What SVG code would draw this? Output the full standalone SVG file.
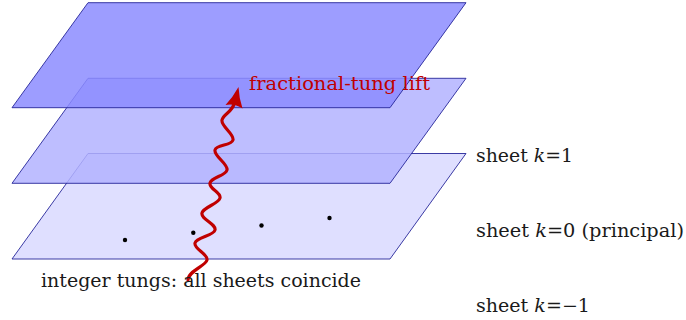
<svg xmlns="http://www.w3.org/2000/svg" width="686" height="320" viewBox="0 0 686 320">
<style>
.sheet{stroke:#26269a;stroke-width:0.9;fill-opacity:0.85;stroke-linejoin:round}
.lbl{font-family:"DejaVu Serif","Liberation Serif",serif;font-size:18px;fill:#1a1a1a}
.red{fill:#c00000}
.it{font-style:italic}
.dot{fill:#000}
.wave{fill:none;stroke:#c00000;stroke-width:3.2;stroke-linecap:round;stroke-linejoin:round}
</style>
<rect width="686" height="320" fill="#fff"/>
<g id="sheet-bottom">
<polygon class="sheet" fill="#d9d9ff" points="12,259 390,259 466,153.5 88,153.5"/>
<circle class="dot" cx="125" cy="240" r="2.2"/>
<circle class="dot" cx="193.3" cy="232.7" r="2.2"/>
<circle class="dot" cx="261.5" cy="225.5" r="2.2"/>
<circle class="dot" cx="329.5" cy="218" r="2.2"/>
</g>
<g id="sheet-middle">
<polygon class="sheet" fill="#b3b3ff" points="12,183.3 390,183.3 466,78.3 88,78.3"/>
</g>
<g id="sheet-top">
<polygon class="sheet" fill="#8c8cff" points="12,107.7 390,107.7 466,2.7 88,2.7"/>
</g>
<g id="connectors">
<path class="wave" d="M188,280 C188,271 205.6,266 207,260 C208.4,254 193.6,249 195,243 C196.4,237 213.6,236 215,230 C216.4,224 200.6,219 202,213 C203.4,207 218.6,204 220,198 C221.4,192 208.6,189 210,183 C211.4,177 225.6,176 227,170 C228.4,164 213.6,156 215,150 C216.4,144 231.6,146 233,140 C234.4,134 220.6,126 222,120 C223.4,114 232,112 234,104"/>
<path fill="#c00000" d="M238.5,87 Q239,98 242.5,108.5 Q234,103 225.5,105 Q233,97 238.5,87 Z"/>
</g>
<g id="labels">
<text class="lbl red" x="249" y="90" textLength="181" lengthAdjust="spacingAndGlyphs">fractional-tung lift</text>
<text class="lbl" x="476" y="162" textLength="97" lengthAdjust="spacingAndGlyphs">sheet <tspan class="it">k</tspan>=1</text>
<text class="lbl" x="476" y="237" textLength="208" lengthAdjust="spacingAndGlyphs">sheet <tspan class="it">k</tspan>=0 (principal)</text>
<text class="lbl" x="476" y="312" textLength="114" lengthAdjust="spacingAndGlyphs">sheet <tspan class="it">k</tspan>=−1</text>
<text class="lbl" x="41" y="287" textLength="320" lengthAdjust="spacingAndGlyphs">integer tungs: all sheets coincide</text>
</g>
</svg>
